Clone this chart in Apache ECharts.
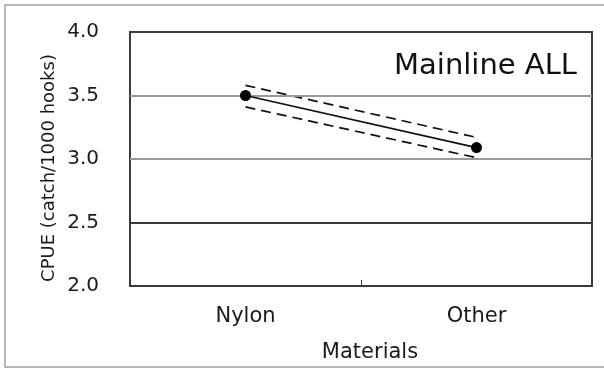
<!DOCTYPE html>
<html>
<head>
<meta charset="utf-8">
<script src="https://cdn.jsdelivr.net/npm/echarts@6/dist/echarts.min.js"></script>
<style>
  html, body { margin: 0; padding: 0; background: #fff; }
  #chart { width: 604px; height: 369px; }
</style>
</head>
<body>
<div id="chart"></div>
<script>
// CPUE by mainline material, with upper/lower confidence bounds
const materials = ['Nylon', 'Other'];
const cpue = [3.50, 3.09];
const cpueUpper = [3.58, 3.17];
const cpueLower = [3.41, 3.01];
const yTicks = [2.0, 2.5, 3.0, 3.5, 4.0];

const FONT = 'DejaVu Sans';
const chart = echarts.init(document.getElementById('chart'));

// grid lines: 3.0 and 3.5 light, 2.5 dark
const darkLines = [2.0, 2.5, 4.0];
const gridMarks = yTicks.filter(v => v > 2.0 && v < 4.0).map(v => ({
  yAxis: v,
  lineStyle: { color: darkLines.includes(v) ? '#3a3a3a' : '#9a9a9a', width: 2, type: 'solid' }
}));

const boundStyle = { color: '#111', width: 1.7, type: [10, 6] };

chart.setOption({
  animation: false,
  grid: { left: 130, right: 12, top: 32, bottom: 83, show: true, borderColor: '#3a3a3a', borderWidth: 2 },
  xAxis: {
    type: 'category',
    data: materials,
    boundaryGap: true,
    axisLine: { show: true, lineStyle: { color: '#3a3a3a', width: 2 } },
    axisTick: { show: true, inside: true, length: 6, lineStyle: { color: '#3a3a3a', width: 1 } },
    axisLabel: { color: '#1a1a1a', fontFamily: FONT, fontSize: 21, margin: 20 },
    name: 'Materials',
    nameLocation: 'middle',
    nameGap: 56,
    nameTextStyle: { color: '#1a1a1a', fontFamily: FONT, fontSize: 21, padding: [0, 0, 0, 18] }
  },
  yAxis: {
    type: 'value',
    min: yTicks[0],
    max: yTicks[yTicks.length - 1],
    interval: 0.5,
    axisLine: { show: false },
    axisTick: { show: false },
    splitLine: { show: false },
    axisLabel: { color: '#1a1a1a', fontFamily: FONT, fontSize: 20, margin: 31, formatter: v => v.toFixed(1) }
  },
  series: [
    {
      type: 'line',
      data: cpue,
      symbol: 'circle',
      symbolSize: 11,
      itemStyle: { color: '#000' },
      lineStyle: { color: '#111', width: 1.7 },
      markLine: { silent: true, symbol: 'none', label: { show: false }, data: gridMarks },
      z: 5
    },
    {
      type: 'line',
      data: cpueUpper,
      symbol: 'none',
      lineStyle: boundStyle
    },
    {
      type: 'line',
      data: cpueLower,
      symbol: 'none',
      lineStyle: boundStyle
    }
  ],
  graphic: [
    {
      type: 'rect',
      shape: { x: 5, y: 5, width: 604, height: 362 },
      style: { fill: 'none', stroke: '#a0a0a0', lineWidth: 1.5 },
      silent: true
    },
    {
      type: 'text',
      x: 49,
      y: 168,
      rotation: Math.PI / 2,
      style: {
        text: 'CPUE (catch/1000 hooks)',
        font: '18px "DejaVu Sans"',
        fill: '#1a1a1a',
        align: 'center',
        verticalAlign: 'middle'
      }
    },
    {
      type: 'text',
      x: 577,
      y: 66,
      style: {
        text: 'Mainline ALL',
        font: '29px "DejaVu Sans"',
        fill: '#111',
        align: 'right',
        verticalAlign: 'middle'
      }
    }
  ]
});
</script>
</body>
</html>
